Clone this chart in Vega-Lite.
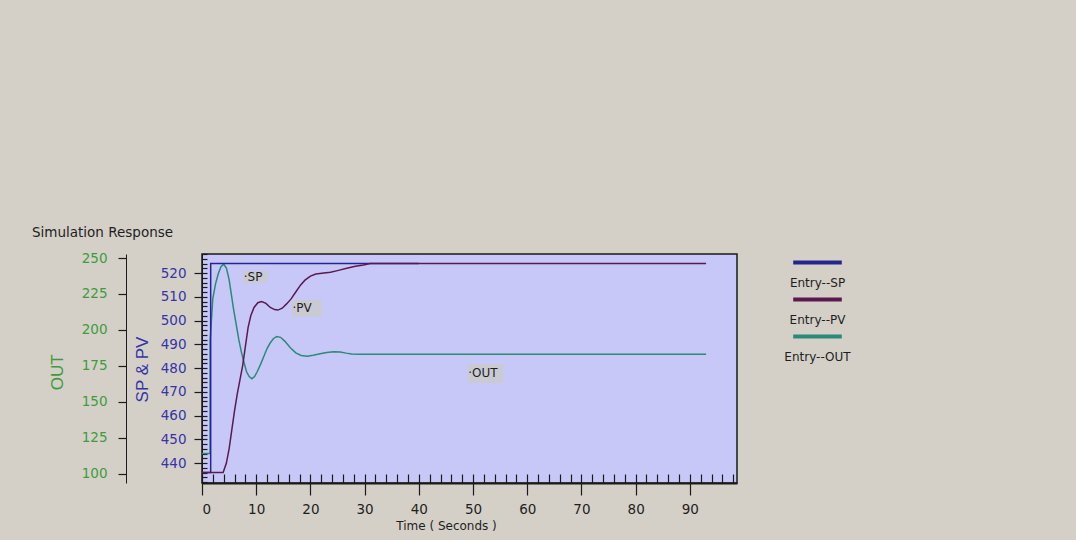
{
  "$schema": "https://vega.github.io/schema/vega-lite/v6.json",
  "width": 535,
  "height": 229,
  "autosize": "none",
  "padding": {"left": 202, "top": 254, "right": 339, "bottom": 57},
  "background": "#d4d0c8",
  "config": {
    "view": {"fill": "#c8c8f8", "stroke": "#1a1a1a", "strokeWidth": 1.5},
    "font": "DejaVu Sans",
    "axis": {"grid": false, "domainColor": "#1a1a1a", "tickColor": "#1a1a1a", "tickWidth": 1.2, "labelFont": "DejaVu Sans", "labelFontSize": 13.5, "titleFontWeight": "normal"}
  },
  "title": {"text": "Simulation Response", "anchor": "start", "frame": "group", "dx": -170, "offset": 5, "baseline": "middle", "fontSize": 13.5, "fontWeight": "normal", "font": "DejaVu Sans", "color": "#1e1e1e"},
  "datasets": {
    "lines": [
      {"series": "Entry--SP", "t": 0, "v": 436},
      {"series": "Entry--SP", "t": 1.6, "v": 436},
      {"series": "Entry--SP", "t": 1.6, "v": 524},
      {"series": "Entry--SP", "t": 40, "v": 524},
      {"series": "Entry--PV", "t": 0, "v": 436},
      {"series": "Entry--PV", "t": 3.9, "v": 436},
      {"series": "Entry--PV", "t": 4.5, "v": 440},
      {"series": "Entry--PV", "t": 5, "v": 446},
      {"series": "Entry--PV", "t": 5.5, "v": 454},
      {"series": "Entry--PV", "t": 6, "v": 462},
      {"series": "Entry--PV", "t": 6.5, "v": 469},
      {"series": "Entry--PV", "t": 7, "v": 475},
      {"series": "Entry--PV", "t": 7.5, "v": 481},
      {"series": "Entry--PV", "t": 8, "v": 489},
      {"series": "Entry--PV", "t": 8.5, "v": 497},
      {"series": "Entry--PV", "t": 9, "v": 502},
      {"series": "Entry--PV", "t": 9.6, "v": 505.5},
      {"series": "Entry--PV", "t": 10.3, "v": 507.5},
      {"series": "Entry--PV", "t": 11, "v": 508},
      {"series": "Entry--PV", "t": 11.8, "v": 507.2},
      {"series": "Entry--PV", "t": 12.6, "v": 505.5},
      {"series": "Entry--PV", "t": 13.4, "v": 504.6},
      {"series": "Entry--PV", "t": 14, "v": 504.4},
      {"series": "Entry--PV", "t": 14.8, "v": 505.2},
      {"series": "Entry--PV", "t": 15.6, "v": 507},
      {"series": "Entry--PV", "t": 16.4, "v": 509},
      {"series": "Entry--PV", "t": 17.3, "v": 512},
      {"series": "Entry--PV", "t": 18.2, "v": 515},
      {"series": "Entry--PV", "t": 19, "v": 517},
      {"series": "Entry--PV", "t": 20, "v": 518.7},
      {"series": "Entry--PV", "t": 21, "v": 519.6},
      {"series": "Entry--PV", "t": 22.5, "v": 520},
      {"series": "Entry--PV", "t": 23.7, "v": 520.3},
      {"series": "Entry--PV", "t": 25, "v": 521},
      {"series": "Entry--PV", "t": 26.7, "v": 522},
      {"series": "Entry--PV", "t": 28.3, "v": 522.8},
      {"series": "Entry--PV", "t": 29.8, "v": 523.4},
      {"series": "Entry--PV", "t": 31, "v": 524},
      {"series": "Entry--PV", "t": 93, "v": 524},
      {"series": "Entry--OUT", "t": 0, "v": 114},
      {"series": "Entry--OUT", "t": 1.5, "v": 114},
      {"series": "Entry--OUT", "t": 1.5, "v": 193},
      {"series": "Entry--OUT", "t": 2, "v": 222},
      {"series": "Entry--OUT", "t": 2.5, "v": 232},
      {"series": "Entry--OUT", "t": 3, "v": 239},
      {"series": "Entry--OUT", "t": 3.5, "v": 244},
      {"series": "Entry--OUT", "t": 4, "v": 245.7},
      {"series": "Entry--OUT", "t": 4.5, "v": 243},
      {"series": "Entry--OUT", "t": 5, "v": 235},
      {"series": "Entry--OUT", "t": 5.4, "v": 225},
      {"series": "Entry--OUT", "t": 5.8, "v": 215},
      {"series": "Entry--OUT", "t": 6.3, "v": 204},
      {"series": "Entry--OUT", "t": 6.8, "v": 193},
      {"series": "Entry--OUT", "t": 7.3, "v": 184},
      {"series": "Entry--OUT", "t": 7.7, "v": 178},
      {"series": "Entry--OUT", "t": 8.2, "v": 171},
      {"series": "Entry--OUT", "t": 8.7, "v": 167.5},
      {"series": "Entry--OUT", "t": 9.2, "v": 166},
      {"series": "Entry--OUT", "t": 9.7, "v": 167.5},
      {"series": "Entry--OUT", "t": 10.2, "v": 171},
      {"series": "Entry--OUT", "t": 10.8, "v": 176},
      {"series": "Entry--OUT", "t": 11.4, "v": 181.5},
      {"series": "Entry--OUT", "t": 12, "v": 187},
      {"series": "Entry--OUT", "t": 12.6, "v": 191},
      {"series": "Entry--OUT", "t": 13.2, "v": 194},
      {"series": "Entry--OUT", "t": 13.8, "v": 195.3},
      {"series": "Entry--OUT", "t": 14.5, "v": 194.8},
      {"series": "Entry--OUT", "t": 15.3, "v": 192},
      {"series": "Entry--OUT", "t": 16.3, "v": 187.5},
      {"series": "Entry--OUT", "t": 17.3, "v": 184},
      {"series": "Entry--OUT", "t": 18.3, "v": 182.2},
      {"series": "Entry--OUT", "t": 19.4, "v": 181.7},
      {"series": "Entry--OUT", "t": 20.5, "v": 182.3},
      {"series": "Entry--OUT", "t": 21.8, "v": 183.3},
      {"series": "Entry--OUT", "t": 23, "v": 184.3},
      {"series": "Entry--OUT", "t": 24.3, "v": 184.8},
      {"series": "Entry--OUT", "t": 25.5, "v": 184.6},
      {"series": "Entry--OUT", "t": 26.6, "v": 183.8},
      {"series": "Entry--OUT", "t": 27.6, "v": 183.2},
      {"series": "Entry--OUT", "t": 29, "v": 183},
      {"series": "Entry--OUT", "t": 93, "v": 183}
    ],
    "labels": [
      {"label": "·SP", "t": 7.7, "v": 518.3, "t0": 7.6, "t1": 12.1, "v0": 515.8, "v1": 520.8},
      {"label": "·PV", "t": 16.7, "v": 505.1, "t0": 16.6, "t1": 22.1, "v0": 501.6, "v1": 508.6},
      {"label": "·OUT", "t": 49.1, "v": 477.7, "t0": 49, "t1": 55.6, "v0": 473.7, "v1": 481.7}
    ]
  },
  "layer": [
    {
      "data": {"name": "labels"},
      "mark": {"type": "rect", "color": "#cacad2"},
      "encoding": {
        "x": {"field": "t0", "type": "quantitative", "scale": {"domain": [0, 98.7], "nice": false, "zero": false}, "axis": null},
        "x2": {"field": "t1"},
        "y": {"field": "v0", "type": "quantitative", "scale": {"domain": [431.6, 528], "nice": false, "zero": false}, "axis": null},
        "y2": {"field": "v1"}
      }
    },
    {
      "data": {"name": "lines"},
      "transform": [{"filter": "datum.series === 'Entry--OUT'"}],
      "mark": {"type": "line", "strokeWidth": 1.5, "clip": true},
      "encoding": {
        "x": {"field": "t", "type": "quantitative", "scale": {"domain": [0, 98.7], "nice": false, "zero": false}, "axis": null},
        "y": {"field": "v", "type": "quantitative", "scale": {"domain": [93.4, 252.8], "nice": false, "zero": false},
          "axis": {"orient": "left", "offset": 76, "values": [100, 125, 150, 175, 200, 225, 250], "tickSize": 8, "labelPadding": 11, "labelColor": "#3c9c3c", "title": "OUT", "titleColor": "#3c9c3c", "titleFont": "Liberation Sans", "titleFontSize": 17, "titleX": -68.5, "titleY": 117.7, "titleAngle": 270, "titleBaseline": "middle", "titleAlign": "center"}},
        "color": {"field": "series", "type": "nominal", "scale": {"domain": ["Entry--SP", "Entry--PV", "Entry--OUT"], "range": ["#25258e", "#5a1a50", "#2a8a78"]}},
        "order": {"field": "t", "type": "quantitative"}
      }
    },
    {
      "data": {"name": "lines"},
      "transform": [{"filter": "datum.series !== 'Entry--OUT'"}],
      "mark": {"type": "line", "strokeWidth": 1.5, "clip": true},
      "encoding": {
        "x": {"field": "t", "type": "quantitative", "scale": {"domain": [0, 98.7], "nice": false, "zero": false},
          "axis": {"orient": "bottom", "values": [0, 10, 20, 30, 40, 50, 60, 70, 80, 90], "tickSize": 12, "labelPadding": 7, "labelColor": "#1e1e1e", "domainWidth": 2, "title": "Time ( Seconds )", "titleColor": "#1e1e1e", "titleFontSize": 12, "titleX": 244, "titleY": 42, "titleBaseline": "middle", "titleAlign": "center"}},
        "y": {"field": "v", "type": "quantitative", "scale": {"domain": [431.6, 528], "nice": false, "zero": false},
          "axis": {"orient": "left", "values": [440, 450, 460, 470, 480, 490, 500, 510, 520], "tickSize": 8, "labelPadding": 8, "labelColor": "#3434a8", "title": "SP & PV", "titleColor": "#3434a8", "titleFont": "Liberation Sans", "titleFontSize": 17, "titleX": -60, "titleY": 115, "titleAngle": 270, "titleBaseline": "middle", "titleAlign": "center"}},
        "color": {"field": "series", "type": "nominal",
          "legend": {"orient": "none", "legendX": 609, "legendY": 2, "title": null, "symbolType": "M-5.4,0H5.4", "symbolSize": 81, "symbolStrokeWidth": 4, "labelOffset": 0, "labelAlign": "center", "labelFontSize": 12, "labelFont": "DejaVu Sans", "labelColor": "#1e1e1e", "rowPadding": 2, "padding": 0,
            "encode": {"labels": {"update": {"dx": {"value": -6.5}, "dy": {"value": 20}}}}}},
        "order": {"field": "t", "type": "quantitative"}
      }
    },
    {
      "data": {"name": "labels"},
      "mark": {"type": "text", "align": "left", "baseline": "middle", "fontSize": 12, "color": "#1e1e1e", "font": "DejaVu Sans"},
      "encoding": {
        "x": {"field": "t", "type": "quantitative", "scale": {"domain": [0, 98.7], "nice": false, "zero": false},
          "axis": {"orient": "bottom", "values": [0, 2, 4, 6, 8, 10, 12, 14, 16, 18, 20, 22, 24, 26, 28, 30, 32, 34, 36, 38, 40, 42, 44, 46, 48, 50, 52, 54, 56, 58, 60, 62, 64, 66, 68, 70, 72, 74, 76, 78, 80, 82, 84, 86, 88, 90, 92, 94, 96, 98], "tickSize": -9, "labels": false, "domain": false, "title": null}},
        "y": {"field": "v", "type": "quantitative", "scale": {"domain": [431.6, 528], "nice": false, "zero": false},
          "axis": {"orient": "left", "values": [432, 434, 436, 438, 440, 442, 444, 446, 448, 450, 452, 454, 456, 458, 460, 462, 464, 466, 468, 470, 472, 474, 476, 478, 480, 482, 484, 486, 488, 490, 492, 494, 496, 498, 500, 502, 504, 506, 508, 510, 512, 514, 516, 518, 520, 522, 524, 526, 528], "tickSize": -5, "labels": false, "domain": false, "title": null}},
        "text": {"field": "label"}
      }
    }
  ],
  "resolve": {"scale": {"y": "independent"}, "axis": {"x": "independent", "y": "independent"}}
}
